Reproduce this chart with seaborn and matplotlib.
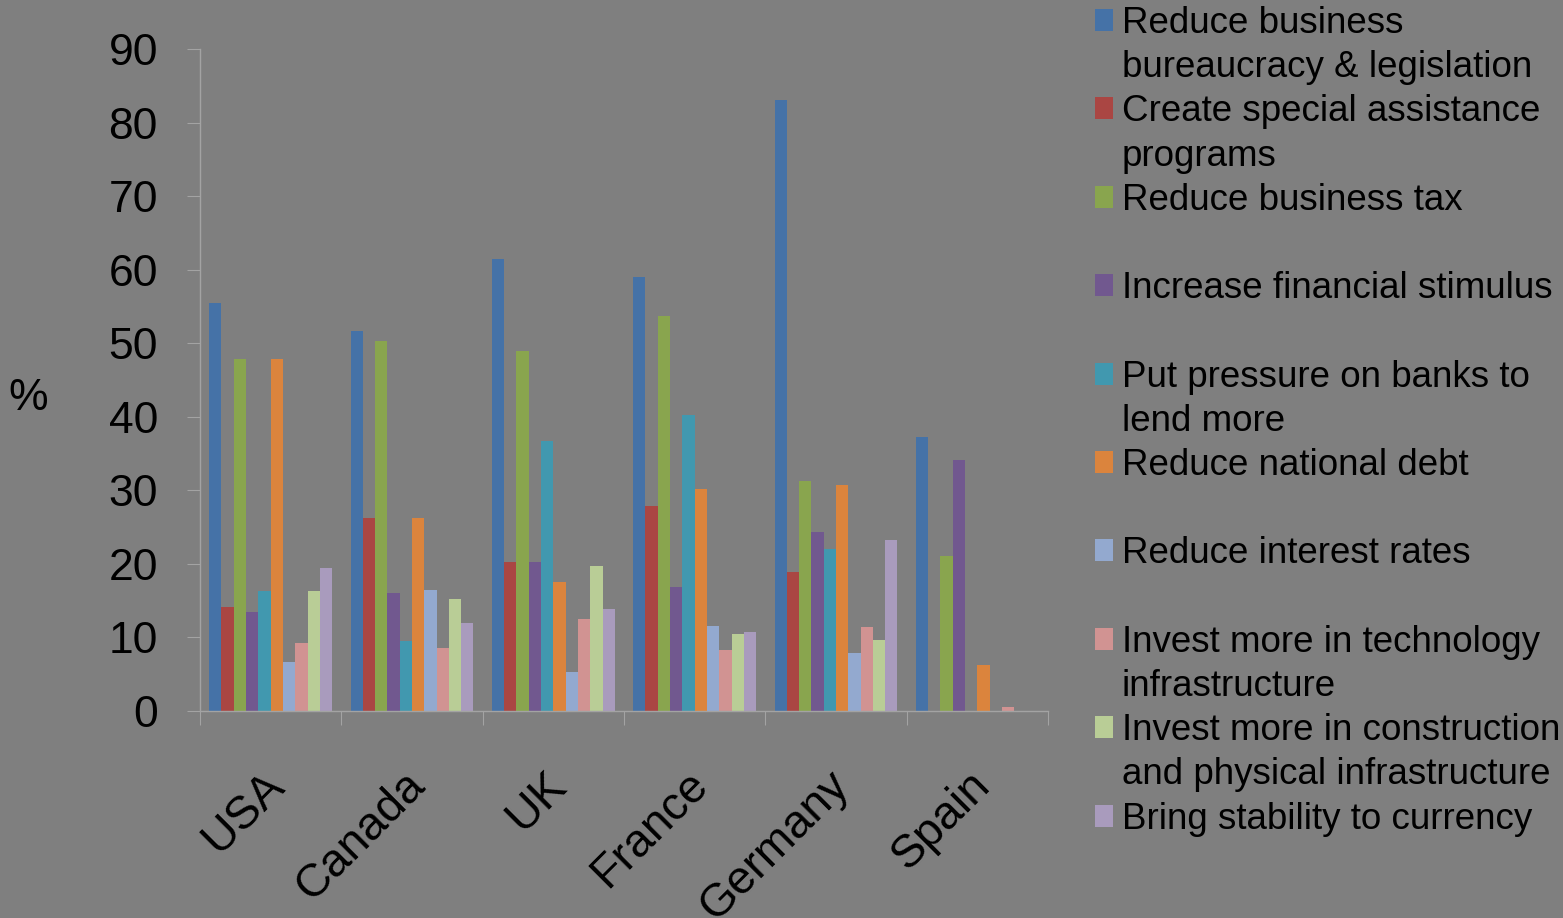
import matplotlib
matplotlib.use("Agg")
import matplotlib.pyplot as plt
import matplotlib.transforms as mtransforms
from matplotlib.patches import Rectangle
import numpy as np
import pandas as pd
import seaborn as sns

# --- data (% of respondents) ---
countries = ["USA", "Canada", "UK", "France", "Germany", "Spain"]

measures = [
    "Reduce business bureaucracy & legislation",
    "Create special assistance programs",
    "Reduce business tax",
    "Increase financial stimulus",
    "Put pressure on banks to lend more",
    "Reduce national debt",
    "Reduce interest rates",
    "Invest more in technology infrastructure",
    "Invest more in construction and physical infrastructure",
    "Bring stability to currency",
]

# legend text as it wraps in the original (first line, second line)
legend_lines = [
    ("Reduce business", "bureaucracy & legislation"),
    ("Create special assistance", "programs"),
    ("Reduce business tax", ""),
    ("Increase financial stimulus", ""),
    ("Put pressure on banks to", "lend more"),
    ("Reduce national debt", ""),
    ("Reduce interest rates", ""),
    ("Invest more in technology", "infrastructure"),
    ("Invest more in construction", "and physical infrastructure"),
    ("Bring stability to currency", ""),
]

reduce_bureaucracy = [55.5, 51.7, 61.5, 59.0, 83.1, 37.2]
special_assistance = [14.2, 26.2, 20.3, 27.9, 18.9, 0.0]
reduce_tax = [47.8, 50.3, 48.9, 53.7, 31.3, 21.1]
financial_stimulus = [13.4, 16.1, 20.3, 16.8, 24.3, 34.1]
pressure_banks = [16.3, 9.5, 36.7, 40.2, 22.0, 0.0]
national_debt = [47.8, 26.2, 17.5, 30.2, 30.7, 6.3]
interest_rates = [6.7, 16.4, 5.3, 11.6, 7.9, 0.0]
tech_infra = [9.2, 8.6, 12.5, 8.3, 11.4, 0.6]
construction = [16.3, 15.2, 19.7, 10.5, 9.6, 0.0]
currency = [19.5, 11.9, 13.8, 10.7, 23.3, 0.0]

series = [reduce_bureaucracy, special_assistance, reduce_tax, financial_stimulus,
          pressure_banks, national_debt, interest_rates, tech_infra,
          construction, currency]

colors = ["#4572A7", "#AA4643", "#89A54E", "#71588F", "#4198AF",
          "#DB843D", "#93A9CF", "#D19392", "#B9CD96", "#A99BBD"]

# long-form table for seaborn
df = pd.DataFrame({
    "Country": np.tile(countries, len(measures)),
    "Measure": np.repeat(measures, len(countries)),
    "Percent": np.concatenate(series),
})

# --- style ---
bg = "#7f7f7f"
axis_col = "#a3a3a3"
sns.set_theme(style="ticks")
plt.rcParams["font.family"] = ["Liberation Sans", "DejaVu Sans"]

W, H, DPI = 1563, 918, 100
fig = plt.figure(figsize=(W / DPI, H / DPI), dpi=DPI, facecolor=bg)
ax = fig.add_axes([200 / W, 207 / H, 848 / W, 662 / H], facecolor=bg)

sns.barplot(
    data=df, x="Country", y="Percent", hue="Measure",
    order=countries, hue_order=measures, palette=colors,
    saturation=1, width=0.87, linewidth=0, legend=False, ax=ax,
)

ax.set_xlim(-0.5, 5.5)
ax.set_ylim(0, 90)
ax.set_yticks(range(0, 91, 10))
ax.set_xticks(np.arange(-0.5, 6, 1), minor=True)
ax.set_xlabel("")
ax.set_ylabel("")

for side in ["top", "right"]:
    ax.spines[side].set_visible(False)
for side in ["left", "bottom"]:
    ax.spines[side].set_color(axis_col)
    ax.spines[side].set_linewidth(1)

ax.tick_params(axis="y", length=9.4, width=0.8, color=axis_col, pad=20.9,
               labelsize=32, labelcolor="black")
ax.tick_params(axis="x", which="major", length=0, pad=54.7,
               labelsize=33.5, labelcolor="black")
ax.tick_params(axis="x", which="minor", length=10, width=0.8, color=axis_col)

shift = mtransforms.ScaledTranslation(15 / DPI, 0, fig.dpi_scale_trans)
for lab in ax.get_xticklabels():
    lab.set_rotation(45)
    lab.set_rotation_mode("anchor")
    lab.set_ha("right")
    lab.set_va("baseline")
    lab.set_transform(lab.get_transform() + shift)

fig.text(28 / W, 1 - 398 / H, "%", fontsize=32, ha="center", va="center",
         color="black")

# legend: two rows per entry so entries are evenly spaced like the original
handles, labels = [], []
for col, (first, second) in zip(colors, legend_lines):
    handles.append(Rectangle((0, 0), 1, 1, facecolor=col, edgecolor="none"))
    labels.append(first)
    handles.append(Rectangle((0, 0), 1, 1, facecolor="none", edgecolor="none"))
    labels.append(second if second else " ")

leg = fig.legend(
    handles, labels, loc="upper left", bbox_to_anchor=(1095 / W, 1 - 6 / H),
    frameon=False, fontsize=26.5, handlelength=0.5, handleheight=0.55,
    handletextpad=0.22, labelspacing=0.25, borderpad=0, borderaxespad=0,
)
for t in leg.get_texts():
    t.set_color("black")

fig.savefig("out.png", dpi=DPI, facecolor=bg)
